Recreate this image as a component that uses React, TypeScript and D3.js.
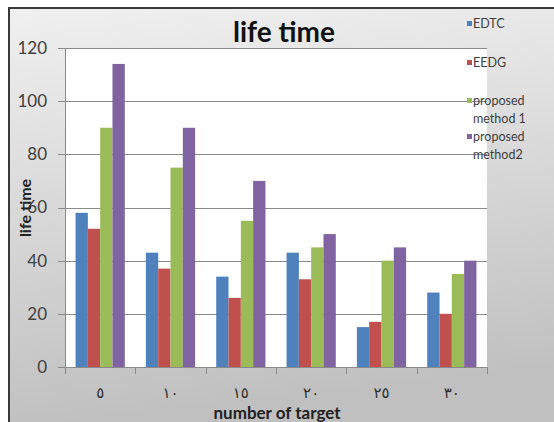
import React from "react";
import * as d3 from "d3";

const categories = ["٥", "١٠", "١٥", "٢٠", "٢٥", "٣٠"];
const seriesNames = ["EDTC", "EEDG", "proposed method 1", "proposed method2"];
const legendLines = [["EDTC"], ["EEDG"], ["proposed", "method 1"], ["proposed", "method2"]];
const edtc = [58, 43, 34, 43, 15, 28];
const eedg = [52, 37, 26, 33, 17, 20];
const proposed1 = [90, 75, 55, 45, 40, 35];
const proposed2 = [114, 90, 70, 50, 45, 40];
const yTicks = [0, 20, 40, 60, 80, 100, 120];
const colors = ["#4F81BD", "#C0504D", "#9BBB59", "#8064A2"];

const W = 554;
const H = 422;
const plot = { left: 65, right: 487, top: 48, bottom: 367 };

export default function App() {
  const series = [edtc, eedg, proposed1, proposed2];
  const x = d3
    .scaleBand<string>()
    .domain(categories)
    .range([plot.left, plot.right])
    .paddingInner(0.3)
    .paddingOuter(0.15);
  const x1 = d3
    .scaleBand<string>()
    .domain(seriesNames)
    .range([0, x.bandwidth()]);
  const y = d3.scaleLinear().domain([0, 120]).range([plot.bottom, plot.top]);
  const step = x.step();
  const boundaries = d3.range(categories.length + 1).map((i) => plot.left + i * step);
  const font = "Lato, 'Open Sans', sans-serif";
  const legendY = [24, 63, 101, 137];

  return (
    <svg
      width={W}
      height={H}
      style={{ position: "absolute", left: 0, top: 0 }}
      fontFamily={font}
    >
      <defs>
        <linearGradient id="bg" x1="0" y1="0" x2="0.15" y2="1">
          <stop offset="0" stopColor="#f0f0f0" />
          <stop offset="1" stopColor="#c0c0c0" />
        </linearGradient>
      </defs>
      <rect x={0} y={0} width={W} height={H} fill="#ffffff" />
      <rect x={9} y={8} width={W - 9} height={H - 8} fill="url(#bg)" />
      <line x1={8} y1={8} x2={W} y2={8} stroke="#3a3a3a" strokeWidth={2} />
      <line x1={9} y1={8} x2={9} y2={H} stroke="#3a3a3a" strokeWidth={2} />

      {/* plot area */}
      <rect
        x={plot.left}
        y={plot.top}
        width={plot.right - plot.left}
        height={plot.bottom - plot.top}
        fill="#ffffff"
      />

      {/* gridlines */}
      {yTicks.map((t) => (
        <line
          key={"g" + t}
          x1={plot.left - 7}
          x2={plot.right}
          y1={Math.round(y(t)) + 0.5}
          y2={Math.round(y(t)) + 0.5}
          stroke="#8a8a8a"
          strokeWidth={1}
        />
      ))}

      {/* bars */}
      {series.map((vals, si) =>
        vals.map((v, ci) => (
          <rect
            key={si + "-" + ci}
            x={(x(categories[ci]) as number) + (x1(seriesNames[si]) as number)}
            y={y(v)}
            width={x1.bandwidth()}
            height={y(0) - y(v)}
            fill={colors[si]}
          />
        ))
      )}

      {/* axes */}
      <line
        x1={plot.left + 0.5}
        x2={plot.left + 0.5}
        y1={plot.top}
        y2={plot.bottom + 7}
        stroke="#8a8a8a"
      />
      <line
        x1={plot.left}
        x2={plot.right}
        y1={plot.bottom + 0.5}
        y2={plot.bottom + 0.5}
        stroke="#8a8a8a"
      />
      {boundaries.map((bx, i) => (
        <line
          key={"xt" + i}
          x1={Math.round(bx) + 0.5}
          x2={Math.round(bx) + 0.5}
          y1={plot.bottom}
          y2={plot.bottom + 7}
          stroke="#8a8a8a"
        />
      ))}

      {/* y tick labels */}
      {yTicks.map((t) => (
        <text
          key={"yl" + t}
          x={47}
          y={y(t)}
          dy="0.35em"
          textAnchor="end"
          fontSize={17}
          fill="#404040"
        >
          {t}
        </text>
      ))}

      {/* x tick labels */}
      {categories.map((c) => (
        <text
          key={"xl" + c}
          x={(x(c) as number) + x.bandwidth() / 2}
          y={398}
          textAnchor="middle"
          fontSize={15}
          fontFamily="'DejaVu Sans', sans-serif"
          fill="#303030"
        >
          {c}
        </text>
      ))}

      {/* titles */}
      <text
        x={284}
        y={42}
        textAnchor="middle"
        fontSize={28}
        fontWeight="bold"
        fill="#111"
      >
        life time
      </text>
      <text
        x={277}
        y={419}
        textAnchor="middle"
        fontSize={17}
        fontWeight="bold"
        fill="#222"
      >
        number of target
      </text>
      <text
        transform="translate(31,208) rotate(-90)"
        textAnchor="middle"
        fontSize={16}
        fontWeight="bold"
        fill="#222"
      >
        life time
      </text>

      {/* legend */}
      {legendLines.map((lines, i) => (
        <g key={"lg" + i}>
          <rect x={467} y={legendY[i] - 3} width={5} height={5} fill={colors[i]} />
          {lines.map((ln, j) => (
            <text
              key={j}
              x={473}
              y={legendY[i] + j * 18}
              dy="0.35em"
              fontSize={12.5}
              fill="#404040"
            >
              {ln}
            </text>
          ))}
        </g>
      ))}
    </svg>
  );
}
